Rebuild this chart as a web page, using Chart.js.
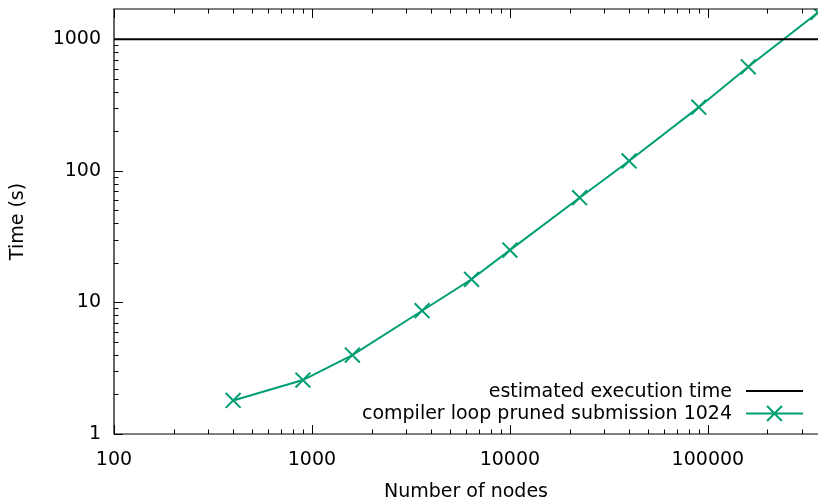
<!DOCTYPE html>
<html><head><meta charset="utf-8">
<script src="https://cdn.jsdelivr.net/npm/chart.js@4/dist/chart.umd.min.js"></script>
<style>html,body{margin:0;padding:0;background:#fff}#wrap{position:relative;width:818px;height:503px}</style>
</head><body><div id="wrap"><canvas id="c"></canvas></div>
<script>
const nodes = [400, 900, 1600, 3600, 6400, 10000, 22500, 40000, 90000, 160000, 360000];
const timeSeconds = [1.8, 2.57, 3.98, 8.65, 15.0, 25.0, 62.5, 119, 305, 618, 1600];
const estimatedTime = 1000;
const xTickValues = [100, 1000, 10000, 100000];
const yTickValues = [1, 10, 100, 1000];
const xRange = [100, 360000];
const yRange = [1, 1700];
const seriesLabels = ['estimated execution time', 'compiler loop pruned submission 1024'];
const axisTitles = { x: 'Number of nodes', y: 'Time (s)' };

const FONT = 'DejaVu Sans';
const GREEN = '#009e73';

const frameTicks = {
  id: 'frameTicks',
  afterDraw(chart) {
    const ctx = chart.ctx, a = chart.chartArea;
    const xs = chart.scales.x, ys = chart.scales.y;
    ctx.save();
    ctx.strokeStyle = '#000';
    ctx.lineWidth = 1.2;
    ctx.beginPath();
    ctx.moveTo(a.right + 2, a.top); ctx.lineTo(a.left, a.top);
    ctx.lineTo(a.left, a.bottom); ctx.lineTo(a.right + 2, a.bottom);
    ctx.stroke();
    ctx.lineWidth = 1;
    const minorTicks = (scale) => {
      const out = [];
      const lo = Math.floor(Math.log10(scale.min)), hi = Math.ceil(Math.log10(scale.max));
      for (let d = lo; d <= hi; d++) for (let m = 1; m <= 9; m++) {
        const v = m * Math.pow(10, d);
        if (v >= scale.min * 0.9999 && v <= scale.max * 1.0001) out.push({ v, major: m === 1 });
      }
      return out;
    };
    ctx.beginPath();
    minorTicks(xs).forEach(t => {
      const px = Math.round(xs.getPixelForValue(t.v)) + 0.5;
      const len = t.major ? 9 : 4.5;
      ctx.moveTo(px, a.bottom); ctx.lineTo(px, a.bottom - len);
      ctx.moveTo(px, a.top); ctx.lineTo(px, a.top + len);
    });
    minorTicks(ys).forEach(t => {
      const py = Math.round(ys.getPixelForValue(t.v)) + 0.5;
      const len = t.major ? 9 : 4.5;
      ctx.moveTo(a.left, py); ctx.lineTo(a.left + len, py);
    });
    ctx.stroke();

    // legend
    ctx.font = '19px "' + FONT + '"';
    ctx.textAlign = 'right';
    ctx.textBaseline = 'middle';
    ctx.fillStyle = '#000';
    const rowsY = [391, 413.5];
    chart.data.datasets.forEach((ds, i) => {
      const y = rowsY[i];
      ctx.fillText(ds.label, 732, y + 1);
      ctx.strokeStyle = ds.borderColor;
      ctx.lineWidth = 2;
      ctx.beginPath();
      ctx.moveTo(746, y); ctx.lineTo(803, y);
      ctx.stroke();
      if (ds.pointRadius > 0) {
        Chart.helpers.drawPoint(ctx, { pointStyle: ds.pointStyle, radius: ds.pointRadius, borderWidth: 2 }, 774.5, y);
      }
    });
    ctx.restore();
  }
};

const zeroPad = s => { s.paddingTop = 0; s.paddingBottom = 0; s.paddingLeft = 0; s.paddingRight = 0; };
const tickFont = { family: FONT, size: 19 };
new Chart(document.getElementById('c'), {
  type: 'line',
  data: {
    datasets: [
      {
        label: seriesLabels[0],
        data: xRange.map(x => ({ x, y: estimatedTime })),
        borderColor: '#000', borderWidth: 2, pointRadius: 0, tension: 0
      },
      {
        label: seriesLabels[1],
        data: nodes.map((x, i) => ({ x, y: timeSeconds[i] })),
        borderColor: GREEN, backgroundColor: GREEN, borderWidth: 2,
        pointStyle: 'crossRot', pointRadius: 10.5, pointBorderWidth: 2,
        pointHoverRadius: 10.5, tension: 0
      }
    ]
  },
  options: {
    responsive: true, maintainAspectRatio: false, animation: false,
    layout: { autoPadding: false, padding: { left: 0, top: 9, right: 0, bottom: 0 } },
    plugins: { legend: { display: false }, tooltip: { enabled: false } },
    scales: {
      x: {
        type: 'logarithmic', min: xRange[0], max: xRange[1],
        afterBuildTicks: s => { s.ticks = xTickValues.map(v => ({ value: v })); },
        afterFit: s => { s.height = 69; zeroPad(s); },
        grid: { display: false, drawTicks: false },
        border: { display: false },
        ticks: { autoSkip: false, maxRotation: 0, padding: 15, color: '#000', font: tickFont, callback: v => String(v) },
        title: { display: true, text: axisTitles.x, color: '#000', font: tickFont, padding: { top: 0, bottom: 0 } }
      },
      y: {
        type: 'logarithmic', min: yRange[0], max: yRange[1],
        afterBuildTicks: s => { s.ticks = yTickValues.map(v => ({ value: v })); },
        afterFit: s => { s.width = 114; zeroPad(s); },
        grid: { display: false, drawTicks: false },
        border: { display: false },
        ticks: { autoSkip: false, padding: 13, color: '#000', font: tickFont, callback: v => String(v) },
        title: { display: true, text: axisTitles.y, color: '#000', font: tickFont, padding: { top: 7, bottom: 0 } }
      }
    }
  },
  plugins: [frameTicks]
});
</script></body></html>
